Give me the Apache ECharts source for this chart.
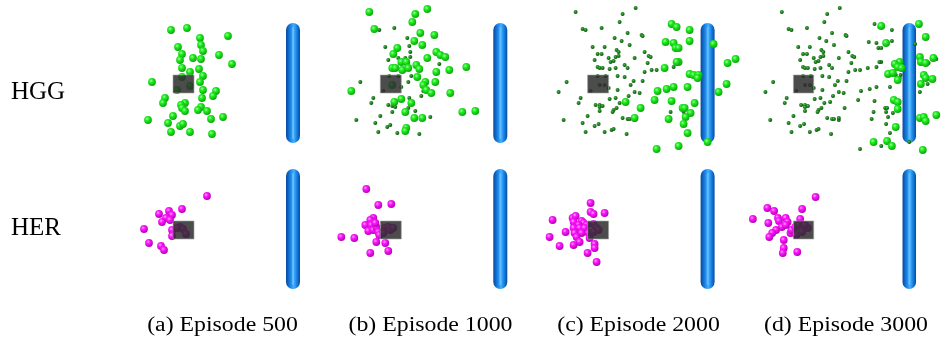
<!DOCTYPE html>
<html><head><meta charset="utf-8">
<script src="https://cdn.jsdelivr.net/npm/echarts@6/dist/echarts.min.js"></script>
<style>html,body{margin:0;padding:0;background:#fff}#c{width:945px;height:337px}</style>
</head><body><div id="c"></div>
<script>
// ---------- data ----------
const rowLabels = ['HGG', 'HER'];
const captions = ['(a) Episode 500', '(b) Episode 1000', '(c) Episode 2000', '(d) Episode 3000'];
const obstacle = [163, 23, 143];        // x, yTop, yBottom (panel units)
const block = [43, 75, 64, 93];          // x0, y0, x1, y1 (panel units)

const hggA_goals = [[41,30],[57,28],[98,36],[70,38],[71,45],[48,47],[73,51],[52,54],[89,55],[63,58],[50,60],[71,59],[102,64],[52,68],[69,69],[60,72],[73,76],[52,77],[22,82],[70,82],[60,86],[47,90],[73,90],[86,91],[83,96],[35,98],[72,98],[33,103],[55,103],[51,105],[52,108],[55,111],[71,107],[68,110],[77,111],[43,116],[93,117],[81,119],[18,120],[38,123],[50,126],[53,124],[41,132],[60,132],[82,134]];
const hggA_prev = [];
const hggB_prev = [[42,30],[57,28],[70,38],[48,47],[72,46],[73,52],[51,60],[73,57],[61,58],[68,58],[102,64],[74,76],[52,76],[61,76],[23,82],[71,82],[64,87],[46,91],[86,91],[84,96],[72,98],[36,98],[34,103],[51,105],[55,106],[58,107],[71,108],[55,112],[78,111],[43,116],[19,120],[38,123],[53,125],[50,127],[93,117],[41,132],[60,133],[82,134]];
const hggB_goals = [[32,12],[78,14],[90,9],[75,22],[37,29],[83,33],[97,35],[77,41],[60,48],[85,45],[99,52],[56,54],[103,55],[108,57],[90,58],[64,62],[69,62],[55,68],[58,68],[65,70],[71,68],[79,65],[82,69],[112,70],[99,72],[129,67],[80,77],[98,82],[88,82],[86,85],[89,90],[94,93],[14,91],[113,93],[64,99],[74,103],[57,102],[68,112],[125,112],[138,111],[77,118],[85,118],[69,128],[68,131],[55,85]];
const hggC_prev = [[31,12],[78,14],[91,8],[75,22],[38,29],[41,30],[57,28],[83,33],[97,35],[98,36],[70,38],[77,41],[48,47],[60,47],[85,45],[72,50],[74,52],[100,52],[53,54],[57,54],[71,57],[74,56],[64,58],[50,60],[90,58],[104,56],[106,57],[69,61],[66,62],[80,65],[103,63],[53,67],[55,68],[58,68],[65,69],[71,68],[83,68],[112,70],[100,72],[129,67],[73,76],[80,77],[89,81],[86,85],[98,81],[53,76],[61,76],[60,85],[55,85],[64,88],[22,82],[14,92],[46,91],[73,90],[90,92],[95,93],[84,96],[36,98],[34,103],[51,105],[55,105],[55,107],[58,106],[65,99],[71,98],[75,103],[69,110],[68,112],[55,111],[72,108],[78,118],[83,119],[85,119],[43,116],[19,120],[38,123],[50,126],[54,124],[67,130],[69,129],[41,132],[60,132],[82,134],[90,120],[126,112],[139,112],[107,70]];
const hggC_goals = [[127,24],[132,27],[145,30],[121,42],[129,43],[131,48],[134,48],[145,41],[169,44],[134,62],[132,62],[120,68],[191,59],[183,63],[145,74],[149,75],[154,75],[153,78],[182,84],[113,91],[122,89],[129,87],[143,87],[174,92],[110,100],[127,101],[150,103],[81,102],[96,108],[138,108],[140,108],[146,113],[141,117],[90,118],[124,119],[139,124],[143,133],[112,149],[134,146],[163,142]];
const hggD_prev = [[31,12],[78,14],[91,8],[75,22],[38,29],[41,30],[57,28],[83,33],[97,35],[98,36],[70,38],[77,41],[48,47],[60,47],[85,45],[72,50],[74,52],[100,52],[53,54],[57,54],[71,57],[74,56],[64,58],[50,60],[90,58],[104,56],[106,57],[69,61],[66,62],[80,65],[103,63],[53,67],[55,68],[58,68],[65,69],[71,68],[83,68],[112,70],[100,72],[129,67],[73,76],[80,77],[89,81],[86,85],[98,81],[53,76],[61,76],[60,85],[55,85],[64,88],[22,82],[14,92],[46,91],[73,90],[90,92],[95,93],[84,96],[36,98],[34,103],[51,105],[55,105],[55,107],[58,106],[65,99],[71,98],[75,103],[69,110],[68,112],[55,111],[72,108],[78,118],[83,119],[85,119],[43,116],[19,120],[38,123],[50,126],[54,124],[67,130],[69,129],[41,132],[60,132],[82,134],[90,120],[126,112],[139,112],[107,70],
  [127,24],[132,27],[145,30],[121,42],[129,43],[131,48],[134,48],[145,41],[169,44],[134,62],[132,62],[120,68],[191,59],[183,63],[145,74],[149,75],[154,75],[153,78],[182,84],[113,91],[122,89],[129,87],[143,87],[174,92],[110,100],[127,101],[150,103],[81,102],[96,108],[138,108],[140,108],[146,113],[141,117],[90,118],[124,119],[139,124],[143,133],[112,149],[134,146],[163,142]];
const hggD_goals = [[134,26],[173,24],[180,37],[139,43],[153,62],[148,64],[151,67],[155,68],[174,57],[175,62],[180,63],[188,58],[141,74],[146,73],[151,80],[178,75],[180,78],[187,79],[175,84],[147,100],[151,102],[151,109],[149,127],[174,118],[178,117],[180,121],[191,115],[126,142],[140,141],[145,146],[177,150]];

const herA_goals = [[77,50],[52,63],[39,65],[29,68],[42,69],[36,72],[40,74],[32,76],[14,83],[42,84],[50,81],[53,83],[56,88],[42,90],[19,97],[31,100],[34,104],[47,82]];
const herB_goals = [[29,43],[41,59],[54,58],[36,72],[33,74],[28,79],[34,79],[31,85],[36,84],[39,81],[41,86],[42,89],[48,82],[51,81],[53,84],[4,91],[17,92],[39,96],[48,97],[33,107],[51,105],[38,77],[46,87],[56,82]];
const herC_goals = [[46,57],[46,66],[49,68],[60,67],[8,74],[28,72],[31,70],[29,76],[37,75],[39,77],[42,79],[34,79],[29,82],[35,82],[40,82],[49,78],[52,82],[30,87],[37,87],[44,87],[49,86],[21,86],[5,91],[32,91],[45,92],[35,96],[29,99],[15,100],[50,98],[50,102],[43,107],[52,116],[54,84]];
const herD_goals = [[66,51],[16,62],[23,65],[52,63],[1,73],[17,77],[27,72],[28,75],[35,72],[37,76],[31,81],[50,73],[25,84],[21,87],[18,91],[40,87],[41,84],[45,81],[48,79],[58,82],[33,94],[33,102],[32,107],[47,106],[35,79],[52,86],[46,89],[55,79]];

// ---------- layout ----------
const colLeft = [130, 337.3, 544.6, 751.9];
const rowTop = [0, 146];
const PW = 200, PH = 146;

const panels = [
  {r:0,c:0,prev:hggA_prev,goals:hggA_goals,kind:'hgg'},
  {r:0,c:1,prev:hggB_prev,goals:hggB_goals,kind:'hgg'},
  {r:0,c:2,prev:hggC_prev,goals:hggC_goals,kind:'hgg'},
  {r:0,c:3,prev:hggD_prev,goals:hggD_goals,kind:'hgg'},
  {r:1,c:0,prev:[],goals:herA_goals,kind:'her'},
  {r:1,c:1,prev:[],goals:herB_goals,kind:'her'},
  {r:1,c:2,prev:[],goals:herC_goals,kind:'her'},
  {r:1,c:3,prev:[],goals:herD_goals,kind:'her'}
];

const greenBall = {type:'radial',x:0.38,y:0.35,r:0.65,colorStops:[{offset:0,color:'#a8ffa8'},{offset:0.35,color:'#22f022'},{offset:1,color:'#0ba80b'}]};
const darkBall = {type:'radial',x:0.4,y:0.38,r:0.65,colorStops:[{offset:0,color:'#4cbc4c'},{offset:0.5,color:'#1a7f1a'},{offset:1,color:'#0a4a0a'}]};
const magBall = {type:'radial',x:0.38,y:0.35,r:0.65,colorStops:[{offset:0,color:'#ffa8ff'},{offset:0.35,color:'#ff1aff'},{offset:1,color:'#b800b8'}]};

const grids=[], xAxes=[], yAxes=[], series=[];
panels.forEach((p,i)=>{
  grids.push({left:colLeft[p.c], top:rowTop[p.r], width:PW, height:PH, containLabel:false});
  xAxes.push({type:'value', gridIndex:i, min:0, max:PW, show:false});
  yAxes.push({type:'value', gridIndex:i, min:0, max:PH, inverse:true, show:false});
  series.push({
    type:'custom', xAxisIndex:i, yAxisIndex:i, z:1, silent:true, animation:false,
    data:[obstacle], encode:{x:0,y:[1,2]},
    renderItem:function(params, api){
      const t = api.coord([api.value(0), api.value(1)]);
      const b = api.coord([api.value(0), api.value(2)]);
      const w = api.size([14,0])[0];
      return {type:'group', children:[
        {type:'rect', shape:{x:t[0]-w/2, y:t[1], width:w, height:b[1]-t[1], r:w/2},
         style:{fill:new echarts.graphic.LinearGradient(0,0,1,0,[
           {offset:0,color:'#08479a'},{offset:0.2,color:'#0f6ed0'},{offset:0.45,color:'#2f9cf6'},
           {offset:0.55,color:'#45b0ff'},{offset:0.8,color:'#127ade'},{offset:1,color:'#084a9a'}])}},
        {type:'rect', shape:{x:t[0]-1, y:t[1]+4, width:2, height:b[1]-t[1]-8, r:1},
         style:{fill:'rgba(130,210,255,0.5)'}}
      ]};
    }
  });
  if (p.prev.length) series.push({
    type:'scatter', xAxisIndex:i, yAxisIndex:i, z:2, clip:false, silent:true, animation:false,
    symbol:'circle', symbolSize:4, data:p.prev, itemStyle:{color:darkBall, opacity:1}
  });
  series.push({
    type:'scatter', xAxisIndex:i, yAxisIndex:i, z:3, clip:false, silent:true, animation:false,
    symbol:'circle', symbolSize:7.8, data:p.goals,
    itemStyle:{color: p.kind==='hgg' ? greenBall : magBall, opacity:1}
  });
  series.push({
    type:'custom', xAxisIndex:i, yAxisIndex:i, z:4, silent:true, animation:false,
    data:[block], encode:{x:[0,2],y:[1,3]},
    renderItem:function(params, api){
      const a = api.coord([api.value(0), api.value(1)]);
      const b = api.coord([api.value(2), api.value(3)]);
      return {type:'rect', shape:{x:a[0], y:a[1], width:b[0]-a[0], height:b[1]-a[1]},
        style:{fill:'rgba(45,45,45,0.85)', stroke:'rgba(160,160,160,0.6)', lineWidth:1}};
    }
  });
});

const graphics = [];
rowLabels.forEach((t,r)=>{
  graphics.push({type:'text', x:11, y:[92,228][r], silent:true,
    style:{text:t, font:'25px "Liberation Serif"', fill:'#000', textAlign:'left', textVerticalAlign:'middle'}});
});
const capCenters = [222.5, 430.5, 638.5, 846];
captions.forEach((t,c)=>{
  graphics.push({type:'text', x:capCenters[c], y:326, scaleX:1.19, silent:true,
    style:{text:t, font:'20px "Liberation Serif"', fill:'#000', textAlign:'center', textVerticalAlign:'middle'}});
});

const chart = echarts.init(document.getElementById('c'), null, {renderer:'canvas'});
chart.setOption({
  animation:false, backgroundColor:'#fff',
  grid:grids, xAxis:xAxes, yAxis:yAxes, series:series, graphic:graphics
});
</script></body></html>
